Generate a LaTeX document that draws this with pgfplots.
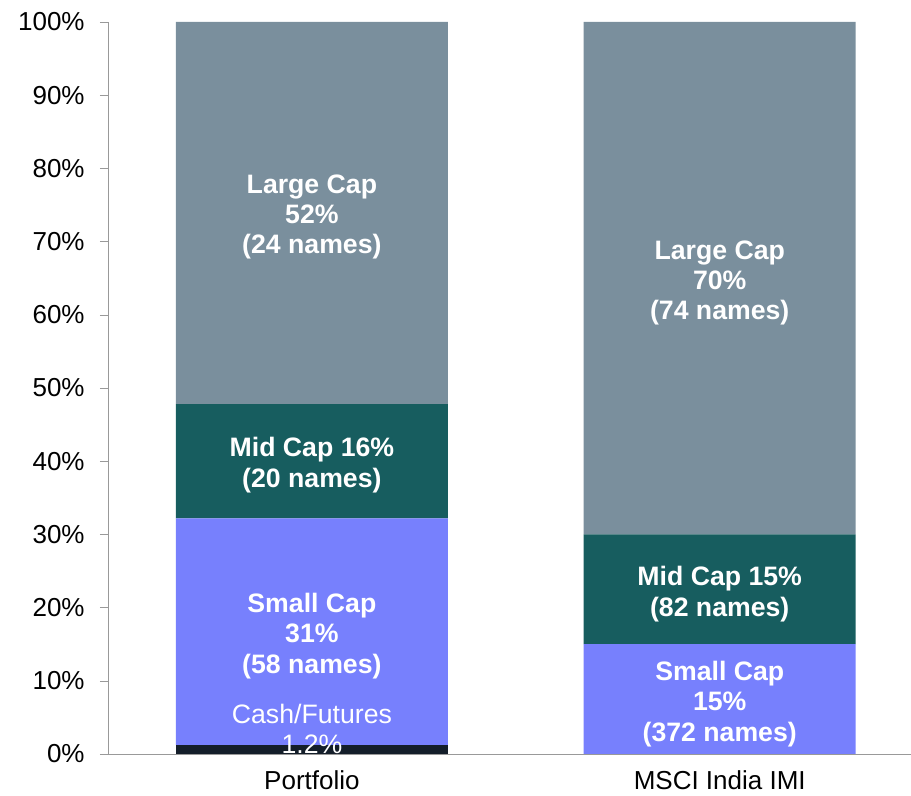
\documentclass[border=0pt]{standalone}
\usepackage{fontspec}
\setmainfont{Liberation Sans}
\usepackage{pgfplots}
\pgfplotsset{compat=1.18}
\definecolor{largecap}{HTML}{7A8F9D}
\definecolor{midcap}{HTML}{175D5F}
\definecolor{smallcap}{HTML}{7780FD}
\definecolor{cashcol}{HTML}{141E2A}
\newcommand{\lblfont}{\fontsize{19.5}{22.5}\selectfont}
\newcommand{\barfont}{\fontsize{20}{22.8}\selectfont}
\begin{document}
\begin{tikzpicture}
\begin{axis}[
  scale only axis,
  width=602.25pt, height=549pt,
  ybar stacked,
  bar width=204pt,
  xmin=-0.5, xmax=1.469,
  ymin=0, ymax=100,
  axis x line=bottom, axis y line=left,
  axis line style={-, draw=gray!80},
  xtick={0,1},
  xticklabels={Portfolio, MSCI India IMI},
  major x tick style={draw=none},
  ytick={0,10,...,100},
  yticklabel={\pgfmathprintnumber{\tick}\%},
  ytick align=outside,
  major tick length=6pt,
  tick style={draw=gray!80},
  /pgf/number format/assume math mode=true,
  tick label style={font=\lblfont, text=black},
  yticklabel style={xshift=-8pt},
  xticklabel style={yshift=-8pt, text depth=0pt, inner sep=1pt},
  clip=false,
]
\addplot[fill=cashcol, draw=none] coordinates {(0,1.2) (1,0)};
\addplot[fill=smallcap, draw=none] coordinates {(0,31.0) (1,15.0)};
\addplot[fill=midcap, draw=none] coordinates {(0,15.6) (1,15.0)};
\addplot[fill=largecap, draw=none] coordinates {(0,52.2) (1,70.0)};

\coordinate (pl) at (axis cs:0,73.9);
\coordinate (pm) at (axis cs:0,40.0);
\coordinate (ps) at (axis cs:0,16.7);
\coordinate (pc) at (axis cs:0,4.0);
\coordinate (ml) at (axis cs:1,64.9);
\coordinate (mm) at (axis cs:1,22.4);
\coordinate (ms) at (axis cs:1,7.4);
\end{axis}
\begin{scope}[every node/.style={text=white, font=\barfont\bfseries, align=center, yshift=-3pt}]
\node at (pl) {Large Cap\\52\%\\(24 names)};
\node at (pm) {Mid Cap 16\%\\(20 names)};
\node at (ps) {Small Cap\\31\%\\(58 names)};
\node[font=\barfont] at (pc) {Cash/Futures\\1.2\%};
\node at (ml) {Large Cap\\70\%\\(74 names)};
\node at (mm) {Mid Cap 15\%\\(82 names)};
\node at (ms) {Small Cap\\15\%\\(372 names)};
\end{scope}
\pgfresetboundingbox
\path[use as bounding box] ([xshift=-81pt,yshift=-31.5pt]current axis.south west) rectangle ([yshift=16.5pt]current axis.north east);
\end{tikzpicture}
\end{document}
